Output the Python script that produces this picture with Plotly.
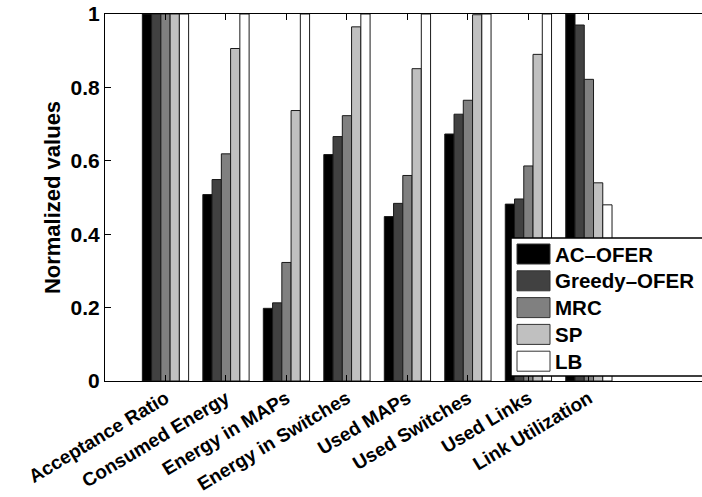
import plotly.graph_objects as go

categories = ["Acceptance Ratio", "Consumed Energy", "Energy in MAPs", "Energy in Switches",
              "Used MAPs", "Used Switches", "Used Links", "Link Utilization"]
series_names = ["AC\u2013OFER", "Greedy\u2013OFER", "MRC", "SP", "LB"]
ac_ofer = [1.0, 0.508, 0.198, 0.617, 0.448, 0.673, 0.482, 1.0]
greedy_ofer = [1.0, 0.549, 0.213, 0.666, 0.484, 0.727, 0.496, 0.970]
mrc = [1.0, 0.619, 0.323, 0.723, 0.560, 0.765, 0.586, 0.822]
sp = [1.0, 0.906, 0.737, 0.965, 0.851, 0.998, 0.890, 0.540]
lb = [1.0, 1.0, 1.0, 1.0, 1.0, 1.0, 1.0, 0.480]
series_values = [ac_ofer, greedy_ofer, mrc, sp, lb]
colors = ["#000000", "#414141", "#808080", "#c0c0c0", "#ffffff"]
y_ticks = [0, 0.2, 0.4, 0.6, 0.8, 1]
y_ticktext = ["0", "0.2", "0.4", "0.6", "0.8", "1"]

W, H = 702, 497
L, R, T, B = 105, 0, 14, 116
pw, ph = W - L - R, H - T - B

def px(x):
    return (x - L) / pw

def py(y):
    return (H - B - y) / ph

FONT = "Liberation Sans"

def f(size):
    return dict(family=FONT, size=size, color="black", weight=700)

fig = go.Figure()
for name, vals, c in zip(series_names, series_values, colors):
    fig.add_trace(go.Bar(x=categories, y=vals, name=name,
                         marker=dict(color=c, line=dict(color="#1a1a1a", width=1)),
                         showlegend=False))

# custom legend (MATLAB style)
shapes = [dict(type="rect", xref="paper", yref="paper", x0=px(511), x1=px(712),
               y0=py(376), y1=py(238), fillcolor="white",
               line=dict(color="black", width=1.5), layer="above")]
annotations = []
row0, dy = 254, 26.8
for i, (name, c) in enumerate(zip(series_names, colors)):
    yc = row0 + i * dy
    shapes.append(dict(type="rect", xref="paper", yref="paper", x0=px(517), x1=px(550),
                       y0=py(yc + 10), y1=py(yc - 10), fillcolor=c,
                       line=dict(color="#333333", width=1), layer="above"))
    annotations.append(dict(xref="paper", yref="paper", x=px(553), y=py(yc), text=name,
                            showarrow=False, xanchor="left", yanchor="middle",
                            font=f(20.5)))

fig.update_layout(
    width=W, height=H,
    margin=dict(l=L, r=R, t=T, b=B, pad=0, autoexpand=False),
    paper_bgcolor="white", plot_bgcolor="white",
    barmode="group", bargap=0.235, bargroupgap=0,
    font=f(20),
    shapes=shapes, annotations=annotations,
    showlegend=False,
)
fig.update_xaxes(
    type="category", range=[-1, 8.87], automargin=False,
    tickangle=-31, tickfont=f(19), ticklabelstandoff=-2,
    showline=True, linecolor="black", linewidth=1, mirror="ticks",
    ticks="inside", ticklen=6, tickcolor="black",
    showgrid=False, zeroline=False,
)
fig.update_yaxes(
    range=[0, 1], tickvals=y_ticks, ticktext=y_ticktext, automargin=False,
    tickfont=f(21),
    showline=True, linecolor="black", linewidth=1,
    ticks="inside", ticklen=6, tickcolor="black",
    showgrid=False, zeroline=False,
    title=dict(text="Normalized values", font=f(22), standoff=3),
)
fig.write_html("out.html")
